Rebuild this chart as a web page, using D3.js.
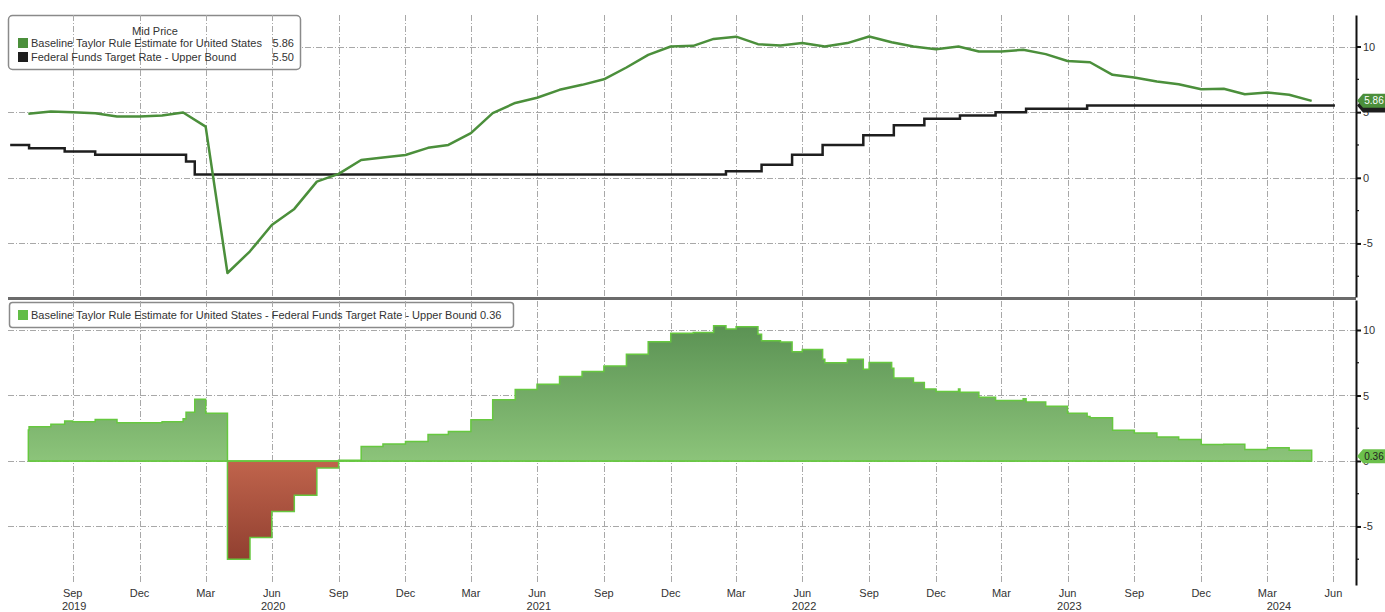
<!DOCTYPE html>
<html>
<head>
<meta charset="utf-8">
<script src="https://cdn.jsdelivr.net/npm/d3@7"></script>
<style>
  body { margin: 0; background: #fff; }
  svg { display: block; font-family: "Liberation Sans", Arial, sans-serif; }
</style>
</head>
<body>
<svg id="chart"></svg>
<script>
// monthly Taylor rule estimate (month end) and fed funds upper bound (step dates)
const taylorDates = [
  "2019-07-31","2019-08-31","2019-09-30","2019-10-31","2019-11-30","2019-12-31",
  "2020-01-31","2020-02-29","2020-03-31","2020-04-30","2020-05-31","2020-06-30",
  "2020-07-31","2020-08-31","2020-09-30","2020-10-31","2020-11-30","2020-12-31",
  "2021-01-31","2021-02-28","2021-03-31","2021-04-30","2021-05-31","2021-06-30",
  "2021-07-31","2021-08-31","2021-09-30","2021-10-31","2021-11-30","2021-12-31",
  "2022-01-31","2022-02-28","2022-03-31","2022-04-30","2022-05-31","2022-06-30",
  "2022-07-31","2022-08-31","2022-09-30","2022-10-31","2022-11-30","2022-12-31",
  "2023-01-31","2023-02-28","2023-03-31","2023-04-30","2023-05-31","2023-06-30",
  "2023-07-31","2023-08-31","2023-09-30","2023-10-31","2023-11-30","2023-12-31",
  "2024-01-31","2024-02-29","2024-03-31","2024-04-30","2024-05-31"
]
const taylorValues = [
  4.87, 5.05, 5.00, 4.92, 4.67, 4.67,
  4.74, 4.97, 3.90, -7.25, -5.60, -3.60,
  -2.37, -0.29, 0.30, 1.36, 1.55, 1.74,
  2.28, 2.50, 3.40, 4.93, 5.70, 6.10,
  6.70, 7.08, 7.50, 8.40, 9.36, 10.00,
  10.05, 10.58, 10.75, 10.18, 10.08, 10.26,
  10.00, 10.26, 10.76, 10.33, 10.00, 9.80,
  10.00, 9.62, 9.62, 9.75, 9.42, 8.90,
  8.80, 7.84, 7.64, 7.33, 7.13, 6.75,
  6.78, 6.37, 6.50, 6.32, 5.86
]
const fedDates = [
  "2019-07-06","2019-08-01","2019-09-19","2019-10-31","2020-03-04","2020-03-16",
  "2022-03-17","2022-05-05","2022-06-16","2022-07-28","2022-09-22","2022-11-03",
  "2022-12-15","2023-02-02","2023-03-23","2023-05-04","2023-07-27","2024-07-02"
]
const fedValues = [2.50, 2.25, 2.00, 1.75, 1.25, 0.25, 0.50, 1.00, 1.75, 2.50, 3.25, 4.00, 4.50, 4.75, 5.00, 5.25, 5.50, 5.50]

const quarterTicks = [
  "2019-09-30","2019-12-31","2020-03-31","2020-06-30","2020-09-30","2020-12-31",
  "2021-03-31","2021-06-30","2021-09-30","2021-12-31","2022-03-31","2022-06-30",
  "2022-09-30","2022-12-31","2023-03-31","2023-06-30","2023-09-30","2023-12-31",
  "2024-03-31","2024-06-30"
]
const years = [2019, 2020, 2021, 2022, 2023, 2024]
const yTicks = [-5, 0, 5, 10]
const yMinorTicks = [-7.5, -2.5, 2.5, 7.5, 12.5]

const taylorName = "Baseline Taylor Rule Estimate for United States"
const fedName = "Federal Funds Target Rate - Upper Bound"

const
    svgWidth = 1385,
    svgHeight = 612,
    LEFT = 8,
    AXIS_X = 1356,
    TOP_Y0 = 15, TOP_Y1 = 297,
    BOT_Y0 = 300, BOT_Y1 = 585

const parse = d3.timeParse("%Y-%m-%d")
const taylor = taylorDates.map((d, i) => ({date: parse(d), v: taylorValues[i]}))
const fed = fedDates.map((d, i) => ({date: parse(d), v: fedValues[i]}))

// spread as a step series: every change in either input
const bis = d3.bisector(d => d.date).right
const stepAt = (arr, t) => arr[Math.max(0, bis(arr, t) - 1)].v
const first = taylor[0].date, last = taylor[taylor.length - 1].date
const changeDates = Array.from(new Set(
    taylor.map(d => +d.date).concat(fed.map(d => +d.date).filter(t => t > +first && t < +last))
)).sort((a, b) => a - b).map(t => new Date(t))
const spread = changeDates.map(t => ({date: t, v: stepAt(taylor, t) - stepAt(fed, t)}))

let svg = d3.select('#chart')
    .attr('width', svgWidth)
    .attr('height', svgHeight)

let x = d3.scaleTime()
    .domain([parse("2019-07-03"), parse("2024-07-31")])
    .range([LEFT, AXIS_X])

let yTop = d3.scaleLinear().domain([-9.08, 12.4]).range([TOP_Y1, TOP_Y0])
let yBot = d3.scaleLinear().domain([-9.47, 12.29]).range([BOT_Y1, BOT_Y0])

const defs = svg.append('defs')
const gGreen = defs.append('linearGradient').attr('id', 'gpos')
    .attr('gradientUnits', 'userSpaceOnUse')
    .attr('x1', 0).attr('x2', 0).attr('y1', yBot(10.5)).attr('y2', yBot(0))
gGreen.append('stop').attr('offset', 0).attr('stop-color', '#5a9153')
gGreen.append('stop').attr('offset', 1).attr('stop-color', '#8cc47a')
const gRed = defs.append('linearGradient').attr('id', 'gneg')
    .attr('gradientUnits', 'userSpaceOnUse')
    .attr('x1', 0).attr('x2', 0).attr('y1', yBot(0)).attr('y2', yBot(-7.8))
gRed.append('stop').attr('offset', 0).attr('stop-color', '#c0644c')
gRed.append('stop').attr('offset', 1).attr('stop-color', '#8f3e2f')

const gridStyle = g => g.attr('stroke', '#a8a8a8').attr('stroke-width', 1).attr('stroke-dasharray', '6,2,1,2')

// horizontal grid
for (const ys of [yTop, yBot]) {
    svg.append('g').call(gridStyle)
        .selectAll('line').data(yTicks).enter().append('line')
        .attr('x1', LEFT).attr('x2', AXIS_X)
        .attr('y1', d => Math.round(ys(d)) + 0.5).attr('y2', d => Math.round(ys(d)) + 0.5)
}

// legend boxes (behind the vertical grid)
svg.append('rect')
    .attr('x', 8.5).attr('y', 15.5).attr('width', 292).attr('height', 54).attr('rx', 4)
    .attr('fill', '#fff').attr('stroke', '#8a8a8a').attr('stroke-width', 1.5)
svg.append('rect')
    .attr('x', 9.5).attr('y', 302.5).attr('width', 504).attr('height', 25).attr('rx', 3)
    .attr('fill', '#fff').attr('stroke', '#8a8a8a').attr('stroke-width', 1.5)

// vertical grid
svg.append('g').call(gridStyle)
    .selectAll('line').data(quarterTicks.map(parse)).enter().append('line')
    .attr('x1', d => Math.round(x(d)) + 0.5).attr('x2', d => Math.round(x(d)) + 0.5)
    .attr('y1', TOP_Y0).attr('y2', 583)

// top panel lines
svg.append('path')
    .datum(fed)
    .attr('fill', 'none').attr('stroke', '#1e1e1e').attr('stroke-width', 2.5)
    .attr('d', d3.line().curve(d3.curveStepAfter).x(d => x(d.date)).y(d => yTop(d.v)))
svg.append('path')
    .datum(taylor)
    .attr('fill', 'none').attr('stroke', '#4b8f3b').attr('stroke-width', 2.5)
    .attr('stroke-linejoin', 'round')
    .attr('d', d3.line().x(d => x(d.date)).y(d => yTop(d.v)))

// bottom panel spread, split into positive / negative parts
const areaOf = f => d3.area().curve(d3.curveStepAfter)
    .x(d => x(d.date)).y0(yBot(0)).y1(d => yBot(f(d.v)))
svg.append('path').datum(spread)
    .attr('fill', 'url(#gneg)').attr('stroke', '#66c83f').attr('stroke-width', 1.5)
    .attr('d', areaOf(v => Math.min(v, 0)))
svg.append('path').datum(spread)
    .attr('fill', 'url(#gpos)').attr('stroke', '#66c83f').attr('stroke-width', 1.5)
    .attr('d', areaOf(v => Math.max(v, 0)))

// panel separator
svg.append('line')
    .attr('x1', LEFT).attr('x2', AXIS_X).attr('y1', 298.5).attr('y2', 298.5)
    .attr('stroke', '#6b6b6b').attr('stroke-width', 3)

// right axes
for (const ys of [yTop, yBot]) {
    const major = svg.append('g')
        .attr('transform', `translate(${AXIS_X}, 0)`)
        .call(d3.axisRight(ys).tickValues(yTicks).tickSize(5).tickSizeOuter(0).tickFormat(d => String(d)))
    major.select('.domain').attr('stroke', '#111').attr('stroke-width', 2)
    major.selectAll('.tick line').attr('stroke', '#111').attr('stroke-width', 2)
    major.selectAll('.tick text').attr('x', 7).attr('fill', '#333')
        .style('font-size', '11px').style('font-family', '"Liberation Sans", Arial, sans-serif')
    const dom = ys.domain()
    svg.append('g')
        .attr('transform', `translate(${AXIS_X}, 0)`)
        .selectAll('line').data(yMinorTicks.filter(d => d > dom[0] && d < dom[1])).enter().append('line')
        .attr('x1', 0).attr('x2', 3)
        .attr('y1', d => ys(d)).attr('y2', d => ys(d))
        .attr('stroke', '#111').attr('stroke-width', 1.2)
}

// value tags on the axis (they sit over the tick label, as in the source)
function tag(yc, fill, textFill, label) {
    const x0 = AXIS_X + 1, x1 = svgWidth, h = 7
    svg.append('path')
        .attr('d', `M${x0},${yc} L${x0 + 6},${yc - h} L${x1},${yc - h} L${x1},${yc + h} L${x0 + 6},${yc + h} Z`)
        .attr('fill', fill)
    if (label) svg.append('text')
        .attr('x', x0 + 17).attr('y', yc + 3.5)
        .attr('text-anchor', 'middle')
        .attr('fill', textFill)
        .style('font-size', '10px')
        .text(label)
}
tag(yTop(fedValues[fedValues.length - 1]), '#1e1e1e', '#fff', null)
tag(yTop(taylorValues[taylorValues.length - 1]), '#4b8f3b', '#fff', d3.format('.2f')(taylorValues[taylorValues.length - 1]))
const lastSpread = spread[spread.length - 1].v
tag(yBot(lastSpread), '#6cc04c', '#222', d3.format('.2f')(lastSpread))

// x axis labels
svg.append('g')
    .selectAll('text').data(quarterTicks.map(parse)).enter().append('text')
    .attr('x', d => x(d)).attr('y', 597)
    .attr('text-anchor', 'middle').attr('fill', '#333').style('font-size', '11px')
    .text(d3.timeFormat('%b'))
const [d0, d1] = x.domain()
svg.append('g')
    .selectAll('text').data(years).enter().append('text')
    .attr('x', yr => {
        const a = Math.max(+new Date(yr, 0, 1), +d0), b = Math.min(+new Date(yr + 1, 0, 1), +d1)
        return x(new Date((a + b) / 2))
    })
    .attr('y', 610)
    .attr('text-anchor', 'middle').attr('fill', '#333').style('font-size', '11px')
    .text(d => d)

// top legend
const legend = svg.append('g').style('font-size', '11px').attr('fill', '#333')
legend.append('text').attr('x', 155).attr('y', 35).attr('text-anchor', 'middle').text('Mid Price')
const rows = [
    {name: taylorName, color: '#4b8f3b', value: taylorValues[taylorValues.length - 1]},
    {name: fedName, color: '#1e1e1e', value: fedValues[fedValues.length - 1]}
]
rows.forEach((r, i) => {
    legend.append('rect').attr('x', 18).attr('y', 38 + i * 14).attr('width', 10).attr('height', 10).attr('fill', r.color)
    legend.append('text').attr('x', 31).attr('y', 47 + i * 14).text(r.name)
    legend.append('text').attr('x', 294).attr('y', 47 + i * 14).attr('text-anchor', 'end').text(d3.format('.2f')(r.value))
})

// bottom legend
legend.append('rect').attr('x', 18).attr('y', 310).attr('width', 10).attr('height', 10).attr('fill', '#62bd47')
legend.append('text').attr('x', 31).attr('y', 319)
    .text(`${taylorName} - ${fedName} ${d3.format('.2f')(lastSpread)}`)
</script>
</body>
</html>
